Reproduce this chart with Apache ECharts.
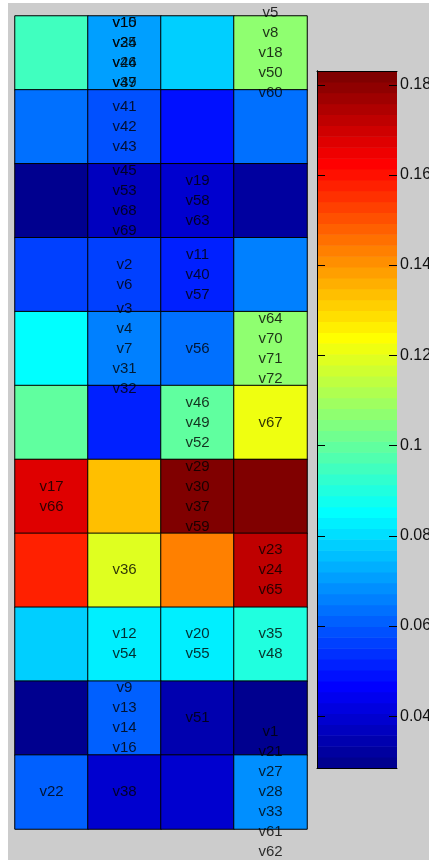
<!DOCTYPE html>
<html>
<head>
<meta charset="utf-8">
<script src="https://cdn.jsdelivr.net/npm/echarts@6/dist/echarts.min.js"></script>
<style>
html,body{margin:0;padding:0;background:#fff;}
#c{width:429px;height:860px;}
</style>
</head>
<body>
<div id="c"></div>
<script>
// ---- data ----
const columns = ['1', '2', '3', '4'];
const rows = ['1', '2', '3', '4', '5', '6', '7', '8', '9', '10', '11'];
// cell values, row by row (top to bottom), 4 columns each
const row1  = [0.0949, 0.0707, 0.0780, 0.1070];
const row2  = [0.0635, 0.0587, 0.0490, 0.0635];
const row3  = [0.0297, 0.0369, 0.0394, 0.0321];
const row4  = [0.0563, 0.0563, 0.0514, 0.0659];
const row5  = [0.0852, 0.0659, 0.0635, 0.1070];
const row6  = [0.0997, 0.0514, 0.0997, 0.1214];
const row7  = [0.1673, 0.1335, 0.1818, 0.1818];
const row8  = [0.1577, 0.1190, 0.1432, 0.1721];
const row9  = [0.0780, 0.0828, 0.0828, 0.0901];
const row10 = [0.0297, 0.0611, 0.0345, 0.0297];
const row11 = [0.0611, 0.0394, 0.0394, 0.0683];
const cellValues = [row1, row2, row3, row4, row5, row6, row7, row8, row9, row10, row11];
// labels: [column index, row index, text]
const cellLabels = [
  [1, 0, 'v10\nv25\nv26\nv39'],
  [1, 0, 'v15\nv34\nv44\nv47'],
  [3, 0, 'v5\nv8\nv18\nv50\nv60'],
  [1, 1, 'v41\nv42\nv43'],
  [1, 2, 'v45\nv53\nv68\nv69'],
  [2, 2, 'v19\nv58\nv63'],
  [1, 3, 'v2\nv6'],
  [2, 3, 'v11\nv40\nv57'],
  [1, 4, 'v3\nv4\nv7\nv31\nv32'],
  [2, 4, 'v56'],
  [3, 4, 'v64\nv70\nv71\nv72'],
  [2, 5, 'v46\nv49\nv52'],
  [3, 5, 'v67'],
  [0, 6, 'v17\nv66'],
  [2, 6, 'v29\nv30\nv37\nv59'],
  [1, 7, 'v36'],
  [3, 7, 'v23\nv24\nv65'],
  [1, 8, 'v12\nv54'],
  [2, 8, 'v20\nv55'],
  [3, 8, 'v35\nv48'],
  [1, 9, 'v9\nv13\nv14\nv16'],
  [2, 9, 'v51'],
  [0, 10, 'v22'],
  [1, 10, 'v38'],
  [3, 10, 'v1\nv21\nv27\nv28\nv33\nv61\nv62']
];
// colour bar range and tick labels
const colorMin = 0.0285;
const colorMax = 0.1830;
const colorTicks = [0.04, 0.06, 0.08, 0.10, 0.12, 0.14, 0.16, 0.18];
const nLevels = 64;

// ---- jet colormap (MATLAB jet(64)) ----
function jetColor(i) { // i = 1..64
  const n = 16;
  const u = [];
  for (let k = 1; k <= n; k++) u.push(k / n);
  for (let k = 0; k < 15; k++) u.push(1);
  for (let k = n; k >= 1; k--) u.push(k / n);
  const uu = (idx) => (idx >= 1 && idx <= u.length) ? u[idx - 1] : 0;
  const r = uu(i - 24), g = uu(i - 8), b = uu(i + 8);
  const h = (x) => Math.round(x * 255);
  return 'rgb(' + h(r) + ',' + h(g) + ',' + h(b) + ')';
}
const step = (colorMax - colorMin) / nLevels;
const pieces = [];
const bands = [];
for (let k = 0; k < nLevels; k++) {
  const lo = colorMin + k * step, hi = colorMin + (k + 1) * step;
  const col = jetColor(k + 1);
  pieces.push({gte: k === 0 ? -1 : lo, lt: k === nLevels - 1 ? 1 : hi, color: col});
  bands.push({value: [lo, hi, k], itemStyle: {color: col}});
}

const heatData = [];
cellValues.forEach((rv, r) => rv.forEach((v, c) => heatData.push([c, r, v])));
const labelData = cellLabels.map(d => ({value: [d[0], d[1]], name: d[2]}));
const tickData = colorTicks.map(v => [v]);

const FONT = '"Liberation Sans", Arial, Helvetica, sans-serif';

const chart = echarts.init(document.getElementById('c'), null, {renderer: 'canvas'});
chart.setOption({
  animation: false,
  backgroundColor: '#ffffff',
  graphic: [{
    type: 'rect', z: -10, silent: true,
    shape: {x: 8, y: 3, width: 421, height: 857},
    style: {fill: '#cccccc'}
  }],
  grid: [
    {left: 15, top: 16, width: 292, height: 813, outerBoundsMode: 'none', containLabel: false},
    {left: 317, top: 71, width: 80, height: 697, outerBoundsMode: 'none', containLabel: false}
  ],
  xAxis: [
    {type: 'category', data: columns, gridIndex: 0, show: false},
    {type: 'value', gridIndex: 1, min: 0, max: 1, position: 'bottom', z: 10,
     axisLine: {show: true, lineStyle: {color: '#000', width: 1}},
     axisTick: {show: false}, axisLabel: {show: false}, splitLine: {show: false}},
    {type: 'value', gridIndex: 1, min: 0, max: 1, position: 'top', z: 10,
     axisLine: {show: true, lineStyle: {color: '#000', width: 1}},
     axisTick: {show: false}, axisLabel: {show: false}, splitLine: {show: false}}
  ],
  yAxis: [
    {type: 'category', data: rows, gridIndex: 0, inverse: true, show: false},
    {type: 'value', gridIndex: 1, min: colorMin, max: colorMax, position: 'right', z: 10,
     axisLine: {show: true, lineStyle: {color: '#000', width: 1}},
     axisTick: {show: false},
     axisLabel: {show: true, customValues: colorTicks, margin: 3, color: '#111',
                 fontSize: 16, fontFamily: FONT, formatter: v => String(+v.toFixed(2))},
     splitLine: {show: false}},
    {type: 'value', gridIndex: 1, min: colorMin, max: colorMax, position: 'left', z: 10,
     axisLine: {show: true, lineStyle: {color: '#000', width: 1}},
     axisTick: {show: false}, axisLabel: {show: false}, splitLine: {show: false}}
  ],
  visualMap: [{
    type: 'piecewise', show: false, seriesIndex: 0, dimension: 2, pieces: pieces
  }],
  series: [
    {
      type: 'heatmap', xAxisIndex: 0, yAxisIndex: 0, data: heatData,
      itemStyle: {borderColor: '#000', borderWidth: 1},
      emphasis: {disabled: true}, label: {show: false}
    },
    {
      type: 'scatter', xAxisIndex: 0, yAxisIndex: 0, data: labelData,
      symbolSize: 0, z: 5, silent: true,
      label: {show: true, position: 'inside', formatter: p => p.name,
              color: '#000', fontSize: 15, lineHeight: 20, fontFamily: FONT, align: 'center'}
    },
    {
      type: 'custom', xAxisIndex: 1, yAxisIndex: 1, data: bands, z: 2, silent: true,
      renderItem: function (params, api) {
        const lo = api.value(0), hi = api.value(1);
        const p1 = api.coord([0, hi]);
        const p2 = api.coord([1, lo]);
        return {
          type: 'rect',
          shape: {x: p1[0], y: p1[1], width: p2[0] - p1[0], height: p2[1] - p1[1] + 0.5},
          style: {fill: api.visual('color')}
        };
      }
    },
    {
      // tick marks on both inner edges of the colour bar
      type: 'custom', xAxisIndex: 1, yAxisIndex: 1, data: tickData, z: 20, silent: true,
      renderItem: function (params, api) {
        const v = api.value(0);
        const pl = api.coord([0, v]);
        const pr = api.coord([1, v]);
        const y = Math.round(pl[1]) + 0.5;
        return {
          type: 'group',
          children: [
            {type: 'line', shape: {x1: pl[0], y1: y, x2: pl[0] + 8, y2: y}, style: {stroke: '#000', lineWidth: 1}},
            {type: 'line', shape: {x1: pr[0] - 8, y1: y, x2: pr[0], y2: y}, style: {stroke: '#000', lineWidth: 1}}
          ]
        };
      }
    }
  ]
});
</script>
</body>
</html>
